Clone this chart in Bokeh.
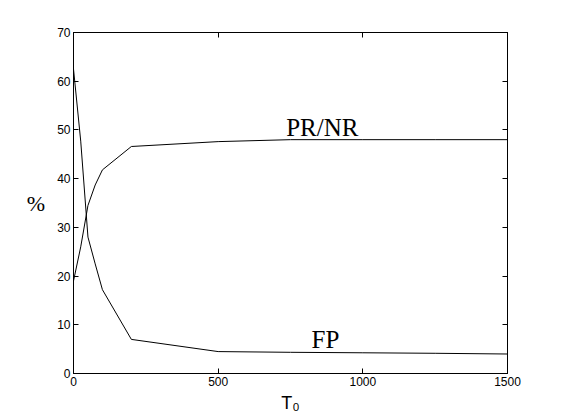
from bokeh.plotting import figure
from bokeh.models import Range1d, LinearAxis, FixedTicker, Label
from bokeh.embed import file_html
from bokeh.resources import INLINE

t0 = [0, 25, 50, 75, 100, 200, 500, 750, 1000, 1250, 1500]
pr_nr = [19.0, 26.0, 34.5, 38.7, 41.8, 46.6, 47.6, 48.0, 48.0, 48.0, 48.0]
fp = [62.5, 47.7, 28.0, 22.5, 17.2, 7.0, 4.5, 4.35, 4.25, 4.15, 4.0]
x_ticks = [0, 500, 1000, 1500]
y_ticks = [0, 10, 20, 30, 40, 50, 60, 70]

p = figure(width=553, height=415, output_backend="svg", toolbar_location=None,
           x_range=Range1d(0, 1500), y_range=Range1d(0, 70),
           min_border_left=73, min_border_right=46, min_border_top=32, min_border_bottom=41)
p.grid.visible = False
p.outline_line_color = "black"
p.outline_line_width = 1
p.background_fill_color = "white"
p.border_fill_color = "white"

for ax, ticks in ((p.xaxis[0], x_ticks), (p.yaxis[0], y_ticks)):
    ax.ticker = FixedTicker(ticks=ticks)
    ax.major_tick_in = 5
    ax.major_tick_out = 0
    ax.minor_tick_line_color = None
    ax.axis_line_color = "black"
    ax.major_tick_line_color = "black"
    ax.major_label_text_font = "Liberation Sans"
    ax.major_label_text_font_size = "12px"
    ax.major_label_text_color = "black"
    ax.major_label_standoff = 3

p.xaxis.axis_label = "T\u2080"
p.xaxis.axis_label_text_font = "Liberation Sans"
p.xaxis.axis_label_text_font_style = "normal"
p.xaxis.axis_label_text_font_size = "18px"
p.xaxis.axis_label_text_color = "black"
p.xaxis.axis_label_standoff = 4

p.yaxis.axis_label = "%"
p.yaxis.axis_label_orientation = "horizontal"
p.yaxis.axis_label_text_font = "Liberation Serif"
p.yaxis.axis_label_text_font_style = "normal"
p.yaxis.axis_label_text_font_size = "22px"
p.yaxis.axis_label_text_color = "black"
p.yaxis.axis_label_standoff = 9

rax = LinearAxis(ticker=FixedTicker(ticks=y_ticks), major_tick_in=5, major_tick_out=0,
                 minor_tick_line_color=None, major_label_text_color=None,
                 major_label_text_font_size="1px", major_label_standoff=0)
tax = LinearAxis(ticker=FixedTicker(ticks=x_ticks), major_tick_in=5, major_tick_out=0,
                 minor_tick_line_color=None, major_label_text_color=None,
                 major_label_text_font_size="1px", major_label_standoff=0)
p.add_layout(rax, "right")
p.add_layout(tax, "above")

p.line(t0, pr_nr, line_color="black", line_width=1)
p.line(t0, fp, line_color="black", line_width=1)

p.add_layout(Label(x=735, y=50.6, text="PR/NR", text_font="Liberation Serif",
                   text_font_size="25px", text_color="black",
                   text_align="left", text_baseline="alphabetic"))
p.add_layout(Label(x=823, y=7.0, text="FP", text_font="Liberation Serif",
                   text_font_size="25px", text_color="black",
                   text_align="left", text_baseline="alphabetic"))

open("out.html", "w").write(file_html(p, INLINE))
